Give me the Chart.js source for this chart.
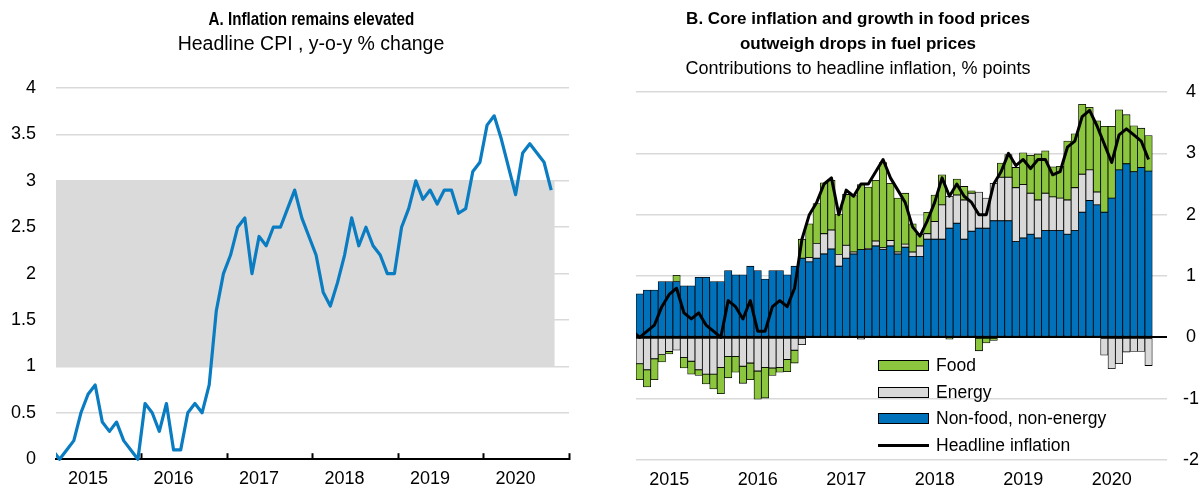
<!DOCTYPE html>
<html>
<head>
<meta charset="utf-8">
<script src="https://cdn.jsdelivr.net/npm/chart.js@4.4.1/dist/chart.umd.min.js"></script>
<style>
  html, body { margin: 0; padding: 0; background: #fff; }
  body { width: 1204px; height: 490px; position: relative; overflow: hidden;
         font-family: "Liberation Sans", Arial, sans-serif; color: #000; }
  .title { position: absolute; text-align: center; line-height: 25px; font-size: 18px; }
  .title b { font-size: 17px; }
  .title .narrow { display: inline-block; font-size: 18.5px; transform: scaleX(0.82); }
  #boxA { position: absolute; left: 0; top: 0; width: 600px; height: 490px; }
  #boxB { position: absolute; left: 602px; top: 0; width: 602px; height: 490px; }
  .legend { position: absolute; left: 878px; top: 352px; font-size: 17.5px; }
  .legend div { height: 26.7px; display: flex; align-items: center; }
  .sw { width: 49px; height: 9px; border: 1px solid #000; margin-right: 7px; }
  .ln { width: 51px; height: 3px; background: #000; margin-right: 7px; }
</style>
</head>
<body>
<div id="boxA"><canvas id="chartA"></canvas></div>
<div id="boxB"><canvas id="chartB"></canvas></div>

<div class="title" style="left:111px; top:6px; width:400px; font-size:19.5px;">
  <b class="narrow">A. Inflation remains elevated</b><br>Headline CPI , y-o-y % change
</div>
<div class="title" style="left:608px; top:6px; width:500px;">
  <b>B. Core inflation and growth in food prices<br>outweigh drops in fuel prices</b><br>Contributions to headline inflation, % points
</div>

<div class="legend">
  <div><span class="sw" style="background:#8cc63f"></span>Food</div>
  <div><span class="sw" style="background:#d9d9d9"></span>Energy</div>
  <div><span class="sw" style="background:#0072bc"></span>Non-food, non-energy</div>
  <div><span class="ln"></span>Headline inflation</div>
</div>

<script>
// tick labels, placed mid-year
const years = ['2015', '2016', '2017', '2018', '2019', '2020'];

// headline CPI, y-o-y %, monthly Dec 2014 - Oct 2020
const headline = [0.1,
  0, 0.1, 0.2, 0.5, 0.7, 0.8, 0.4, 0.3, 0.4, 0.2, 0.1, 0,
  0.6, 0.5, 0.3, 0.6, 0.1, 0.1, 0.5, 0.6, 0.5, 0.8, 1.6, 2.0,
  2.2, 2.5, 2.6, 2.0, 2.4, 2.3, 2.5, 2.5, 2.7, 2.9, 2.6, 2.4,
  2.2, 1.8, 1.65, 1.9, 2.2, 2.6, 2.3, 2.5, 2.3, 2.2, 2.0, 2.0,
  2.5, 2.7, 3.0, 2.8, 2.9, 2.75, 2.9, 2.9, 2.65, 2.7, 3.1, 3.2,
  3.6, 3.7, 3.45, 3.15, 2.85, 3.3, 3.4, 3.3, 3.2, 2.9];

// contributions, % points, monthly Jan 2015 - Oct 2020
const nonFood = [
  0.71, 0.77, 0.77, 0.91, 0.91, 0.91, 0.84, 0.84, 0.98, 0.98, 0.91, 0.91,
  1.09, 1.02, 1.02, 1.16, 1.09, 0.95, 1.09, 1.09, 1.02, 1.16, 1.29, 1.23,
  1.29, 1.36, 1.44, 1.16, 1.29, 1.36, 1.43, 1.43, 1.49, 1.43, 1.49, 1.36,
  1.47, 1.32, 1.32, 1.60, 1.60, 1.60, 1.78, 1.86, 1.60, 1.73, 1.78, 1.78,
  1.90, 1.90, 1.90, 1.56, 1.62, 1.68, 1.62, 1.74, 1.74, 1.74, 1.68, 1.74,
  2.04, 2.23, 2.16, 2.04, 2.27, 2.73, 2.83, 2.70, 2.77, 2.71];
const energy = [
  -0.43, -0.53, -0.35, -0.28, -0.23, -0.21, -0.33, -0.39, -0.53, -0.60, -0.60, -0.49,
  -0.31, -0.31, -0.47, -0.42, -0.55, -0.49, -0.50, -0.49, -0.36, -0.21, -0.12, 0.07,
  0.24, 0.33, 0.31, 0.19, 0.21, 0.03, -0.03, 0.02, 0.08, 0.03, 0.09, 0.03,
  0.05, 0.07, 0.17, 0.09, 0.29, 0.56, 0.52, 0.46, 0.64, 0.62, 0.59, 0.49,
  0.61, 0.71, 0.71, 0.88, 0.87, 0.67, 0.62, 0.61, 0.55, 0.53, 0.56, 0.70,
  0.62, 0.50, 0.21, -0.29, -0.51, -0.43, -0.24, -0.23, -0.23, -0.46];
const food = [
  -0.26, -0.28, -0.34, -0.12, -0.04, 0.10, -0.17, -0.21, -0.09, -0.16, -0.24, -0.43,
  -0.35, -0.26, -0.28, -0.27, -0.46, -0.50, -0.12, -0.08, -0.20, -0.21, 0.31, 0.55,
  0.65, 0.83, 0.81, 0.66, 0.83, 0.92, 1.06, 1.00, 0.99, 1.39, 0.93, 0.88,
  0.83, 0.46, 0.19, 0.35, 0.43, 0.49, -0.03, 0.26, 0.22, 0.04, -0.22, -0.09,
  -0.05, 0.23, 0.37, 0.33, 0.52, 0.62, 0.75, 0.69, 0.49, 0.52, 0.96, 0.88,
  1.14, 1.02, 1.16, 1.40, 1.17, 0.98, 0.80, 0.75, 0.64, 0.58];

// target band, %
const bandLow = 1, bandHigh = 3;

Chart.defaults.font.family = '"Liberation Sans", Arial, sans-serif';
Chart.defaults.font.size = 18;
Chart.defaults.color = '#000';
Chart.defaults.animation = false;

// month index 0 = Jan 2015
const toPoints = (arr, start) => arr.map((v, i) => ({ x: i + start, y: v }));
const yearLabel = v => Number.isInteger(v) ? years[(v - 4) / 12] : '';

new Chart(document.getElementById('chartA'), {
  type: 'line',
  data: {
    datasets: [
      {
        label: 'Headline CPI',
        data: toPoints(headline, -1),
        borderColor: '#0a7cc1',
        borderWidth: 3.2,
        borderJoinStyle: 'round',
        pointRadius: 0,
        order: 1,
        clip: { left: 0, right: 0, top: 5, bottom: 5 }
      },
      {
        label: 'Target band',
        data: [{ x: -0.5, y: bandHigh }, { x: headline.length - 1.5, y: bandHigh }],
        borderWidth: 0,
        pointRadius: 0,
        backgroundColor: '#dadada',
        fill: { value: bandLow },
        order: 2
      }
    ]
  },
  options: {
    responsive: true,
    maintainAspectRatio: false,
    layout: { padding: { top: 88, right: 31, left: 0, bottom: 0 } },
    plugins: { legend: { display: false }, tooltip: { enabled: false } },
    scales: {
      x: {
        type: 'linear', min: -0.5, max: 71.5,
        afterBuildTicks: s => {
          s.ticks = [];
          years.forEach((y, k) => { s.ticks.push({ value: 4 + 12 * k }, { value: 11.5 + 12 * k }); });
        },
        afterFit: s => { s.height = 30; },
        grid: {
          drawOnChartArea: false, tickLength: -6, tickWidth: 2,
          tickColor: c => (c.tick && c.tick.value % 1) ? '#000' : 'rgba(0,0,0,0)'
        },
        border: { color: '#000', width: 2 },
        ticks: { autoSkip: false, maxRotation: 0, padding: 15, callback: yearLabel }
      },
      y: {
        min: 0, max: 4,
        afterFit: s => { s.width = 56; },
        ticks: { stepSize: 0.5, padding: 20, callback: v => String(v) },
        grid: { color: '#d9d9d9', lineWidth: 1.5, drawTicks: false },
        border: { display: false }
      }
    }
  }
});

const barStyle = { borderColor: '#000', borderWidth: 0.8, borderSkipped: false, order: 1, stack: 'cpi' };

new Chart(document.getElementById('chartB'), {
  type: 'bar',
  data: {
    datasets: [
      {
        type: 'line', label: 'Headline inflation', data: toPoints(headline, -1),
        borderColor: '#000', borderWidth: 3, borderJoinStyle: 'round', pointRadius: 0,
        order: 0, stack: 'line', clip: { left: 0, right: 0, top: 5, bottom: 5 }
      },
      Object.assign({ label: 'Non-food, non-energy', data: toPoints(nonFood, 0), backgroundColor: '#0072bc' }, barStyle),
      Object.assign({ label: 'Energy', data: toPoints(energy, 0), backgroundColor: '#d9d9d9' }, barStyle),
      Object.assign({ label: 'Food', data: toPoints(food, 0), backgroundColor: '#8cc63f' }, barStyle)
    ]
  },
  options: {
    responsive: true,
    maintainAspectRatio: false,
    datasets: { bar: { barPercentage: 1, categoryPercentage: 1 } },
    layout: { padding: { top: 92, left: 34, right: 0, bottom: 0 } },
    plugins: { legend: { display: false }, tooltip: { enabled: false } },
    scales: {
      x: {
        type: 'linear', min: -0.5, max: 71.5, offset: false,
        afterBuildTicks: s => { s.ticks = years.map((y, k) => ({ value: 4 + 12 * k })); },
        afterFit: s => { s.height = 30; },
        grid: { display: false, drawTicks: false },
        border: { display: false },
        ticks: { autoSkip: false, maxRotation: 0, padding: 9, callback: yearLabel }
      },
      y: {
        position: 'right', stacked: true, min: -2, max: 4,
        afterFit: s => { s.width = 37; },
        ticks: { stepSize: 1, padding: 16, crossAlign: 'center', callback: v => String(v) },
        grid: {
          drawTicks: false,
          color: c => c.tick.value === 0 ? '#000' : '#d9d9d9',
          lineWidth: c => c.tick.value === 0 ? 2 : 1.5
        },
        border: { display: false }
      }
    }
  }
});
</script>
</body>
</html>
